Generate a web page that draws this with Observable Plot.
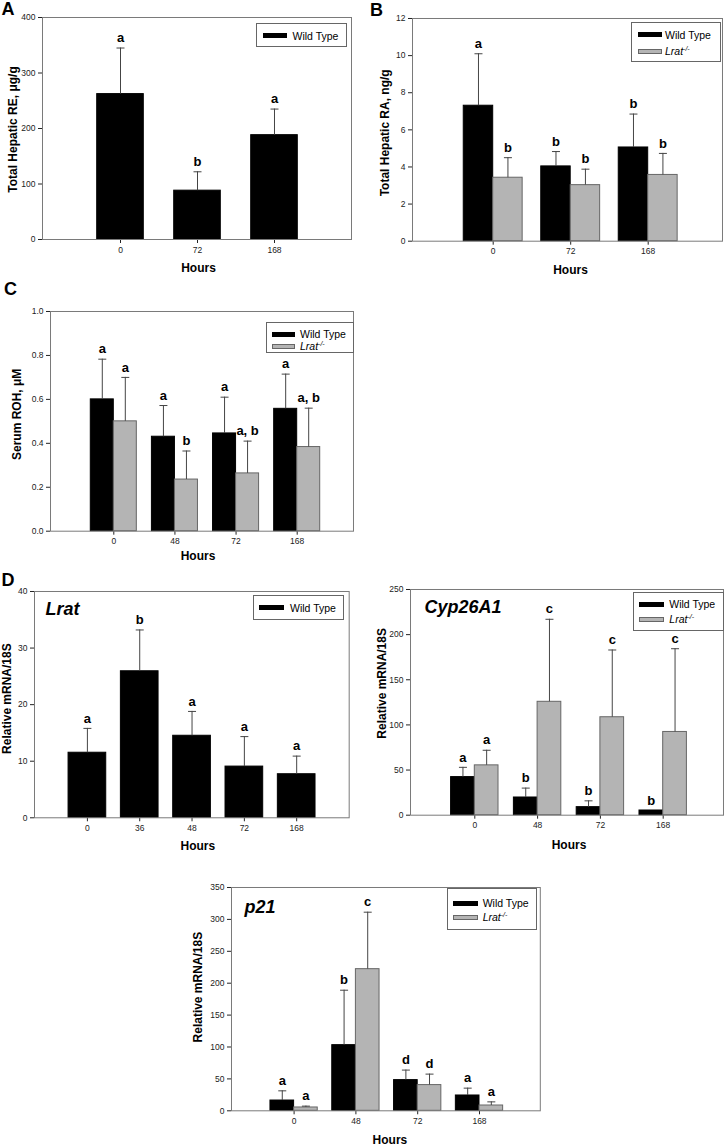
<!DOCTYPE html>
<html>
<head>
<meta charset="utf-8">
<script src="https://cdn.jsdelivr.net/npm/d3@7"></script>
<script src="https://cdn.jsdelivr.net/npm/@observablehq/plot@0.6"></script>
<style>
  html, body { margin: 0; padding: 0; background: #fff; }
  #fig { position: relative; width: 727px; height: 1147px; overflow: hidden; font-family: "Liberation Sans", Arial, sans-serif; color: #000; }
  .panel { position: absolute; }
  .panel svg { display: block; max-width: none; }
  .letter { position: absolute; font-weight: bold; font-size: 18px; line-height: 18px; }
  .legend { position: absolute; border: 1px solid #666; background: #fff; box-sizing: border-box; }
  .legend .sw { position: absolute; height: 5px; box-sizing: border-box; }
  .legend .lt { position: absolute; font-size: 10.5px; line-height: 14px; white-space: nowrap; }
  .legend sup { font-size: 7px; vertical-align: 4px; line-height: 0; }
</style>
</head>
<body>
<div id="fig"></div>
<script>
// ---------------- DATA ----------------
const seriesNames = ["Wild Type", "Lrat"];
const koSuperscript = "-/-";

// A: Total hepatic RE (µg/g)
const hoursA = ["0", "72", "168"];
const reWT = [262, 88, 188];
const reWTErr = [345, 122, 235];
const reWTSig = ["a", "b", "a"];
const ticksA = [0, 100, 200, 300, 400];

// B: Total hepatic RA (ng/g)
const hoursB = ["0", "72", "168"];
const raWT = [7.3, 4.03, 5.05];
const raWTErr = [10.1, 4.83, 6.85];
const raWTSig = ["a", "b", "b"];
const raKO = [3.42, 3.02, 3.57];
const raKOErr = [4.5, 3.88, 4.73];
const raKOSig = ["b", "b", "b"];
const ticksB = [0, 2, 4, 6, 8, 10, 12];

// C: Serum ROH (µM)
const hoursC = ["0", "48", "72", "168"];
const rohWT = [0.60, 0.43, 0.445, 0.557];
const rohWTErr = [0.783, 0.572, 0.61, 0.715];
const rohWTSig = ["a", "a", "a", "a"];
const rohKO = [0.50, 0.235, 0.263, 0.383];
const rohKOErr = [0.70, 0.365, 0.41, 0.56];
const rohKOSig = ["a", "b", "a, b", "a, b"];
const ticksC = [0, 0.2, 0.4, 0.6, 0.8, 1.0];

// D: Lrat mRNA
const hoursLrat = ["0", "36", "48", "72", "168"];
const lratWT = [11.5, 25.9, 14.5, 9.05, 7.7];
const lratWTErr = [15.8, 33.2, 18.8, 14.35, 10.9];
const lratWTSig = ["a", "b", "a", "a", "a"];
const ticksLrat = [0, 10, 20, 30, 40];

// D: Cyp26A1 mRNA
const hoursCyp = ["0", "48", "72", "168"];
const cypWT = [42.2, 19.6, 8.9, 5.2];
const cypWTErr = [53, 30, 15.9, 5.2];
const cypWTSig = ["a", "b", "b", "b"];
const cypKO = [55.2, 125.6, 108.5, 92.2];
const cypKOErr = [71.9, 217, 183, 184.4];
const cypKOSig = ["a", "c", "c", "c"];
const ticksCyp = [0, 50, 100, 150, 200, 250];

// D: p21 mRNA
const hoursP21 = ["0", "48", "72", "168"];
const p21WT = [16.1, 102.9, 48.1, 24];
const p21WTErr = [31.3, 189, 63.8, 35.5];
const p21WTSig = ["a", "b", "d", "a"];
const p21KO = [5.2, 222, 40.3, 8.3];
const p21KOErr = [7.3, 311.3, 57.5, 14];
const p21KOSig = ["a", "c", "d", "a"];
const ticksP21 = [0, 50, 100, 150, 200, 250, 300, 350];

// ---------------- STYLE ----------------
const WT_STYLE = { fill: "#000", stroke: "#000", labelHtml: seriesNames[0] };
const KO_STYLE = { fill: "#b4b4b4", stroke: "#666", labelHtml: "<i>" + seriesNames[1] + "<sup>" + koSuperscript + "</sup></i>" };
const ERR_COLOR = "#444";
const capSymbol = { draw(ctx, size) { const w = Math.sqrt(size / Math.PI); ctx.moveTo(-w, 0); ctx.lineTo(w, 0); } };

const fig = document.getElementById("fig");

function makePanel(cfg) {
  const mL = 50, mR = 8, mT = 8, mB = 46;
  const W = cfg.fr - cfg.fl, H = cfg.fb - cfg.ft;
  const svgLeft = cfg.fl - mL, svgTop = cfg.ft - mT;
  const width = W + mL + mR, height = H + mT + mB;
  const n = cfg.cats.length, k = cfg.series.length;
  const step = (cfg.cN - cfg.c0) / (n - 1);
  const pi = 1 - cfg.frac, po = (1 + pi) / 2;
  const bw = step * cfg.frac, sub = bw / k;
  const range = [cfg.c0 - step - svgLeft, cfg.cN + step - svgLeft];

  const marks = [];
  cfg.series.forEach((s, j) => {
    const rows = cfg.cats.map((c, i) => ({ cat: c, v: s.values[i], e: s.errs[i], s: s.sigs[i] }));
    const il = j * sub, ir = (k - 1 - j) * sub, dx = -bw / 2 + sub * (j + 0.5);
    marks.push(Plot.barY(rows, { x: "cat", y: "v", fill: s.fill, stroke: s.stroke, strokeWidth: 1, insetLeft: il, insetRight: ir }));
    const eb = rows.filter(d => d.e > d.v);
    marks.push(Plot.ruleX(eb, { x: "cat", y1: "v", y2: "e", dx, stroke: ERR_COLOR, strokeWidth: 1 }));
    marks.push(Plot.dot(eb, { x: "cat", y: "e", dx, symbol: capSymbol, r: 4, fill: "none", stroke: ERR_COLOR, strokeWidth: 1 }));
    marks.push(Plot.text(rows, { x: "cat", y: "e", text: "s", dx, dy: -10, fontWeight: "bold", fontSize: 13, fill: "#000" }));
  });
  marks.push(Plot.frame({ stroke: "#7a7a7a" }));
  marks.push(Plot.text(["Hours"], { frameAnchor: "bottom", text: d => d, dx: cfg.hoursDx, dy: cfg.hoursDy, textAnchor: "middle", lineAnchor: "middle", fontWeight: "bold", fontSize: 12, fill: "#000" }));
  marks.push(Plot.text([cfg.yLabel], { frameAnchor: "left", text: d => d, rotate: -90, dx: cfg.yLabelDx, dy: cfg.yLabelDy, textAnchor: "middle", lineAnchor: "middle", fontWeight: "bold", fontSize: 12, fill: "#000" }));
  if (cfg.gene) {
    marks.push(Plot.text([cfg.gene], { frameAnchor: "top-left", text: d => d, dx: cfg.geneDx, dy: cfg.geneDy, textAnchor: "start", lineAnchor: "top", fontWeight: "bold", fontStyle: "italic", fontSize: 18, fill: "#000" }));
  }

  const chart = Plot.plot({
    width, height,
    marginLeft: mL, marginRight: mR, marginTop: mT, marginBottom: mB,
    style: { fontFamily: "'Liberation Sans', Arial, sans-serif", fontSize: "8.5px", color: "#222", background: "transparent", overflow: "visible" },
    x: { type: "band", domain: cfg.cats, range, paddingInner: pi, paddingOuter: po, round: false, label: null, tickSize: 4, tickPadding: 3 },
    y: { domain: cfg.yDomain, ticks: cfg.yTicks, tickFormat: cfg.yFormat, label: null, tickSize: 4, tickPadding: 3 },
    marks
  });
  const holder = document.createElement("div");
  holder.className = "panel";
  holder.style.left = svgLeft + "px";
  holder.style.top = svgTop + "px";
  holder.appendChild(chart);
  fig.appendChild(holder);

  // legend
  const L = cfg.legend;
  const box = document.createElement("div");
  box.className = "legend";
  Object.assign(box.style, { left: L.x + "px", top: L.y + "px", width: L.w + "px", height: L.h + "px" });
  cfg.series.forEach((s, j) => {
    const cy = L.rowY[j] - L.y - 1;
    const sw = document.createElement("div");
    sw.className = "sw";
    Object.assign(sw.style, { left: (L.swX - L.x - 1) + "px", top: (cy - 2.5) + "px", width: L.swW + "px", background: s.fill, border: "1px solid " + s.stroke });
    const t = document.createElement("div");
    t.className = "lt";
    t.innerHTML = s.labelHtml;
    Object.assign(t.style, { left: (L.txtX - L.x - 1) + "px", top: (cy - 7) + "px" });
    box.appendChild(sw);
    box.appendChild(t);
  });
  fig.appendChild(box);

  // panel letter
  if (cfg.letter) {
    const el = document.createElement("div");
    el.className = "letter";
    el.textContent = cfg.letter.text;
    el.style.left = cfg.letter.x + "px";
    el.style.top = cfg.letter.y + "px";
    fig.appendChild(el);
  }
}

const fmt1 = d3.format(".1f");

makePanel({
  fl: 42, fr: 351, ft: 17.3, fb: 239.3, c0: 120, cN: 274, frac: 0.605,
  cats: hoursA,
  series: [{ ...WT_STYLE, values: reWT, errs: reWTErr, sigs: reWTSig }],
  yDomain: [0, 400], yTicks: ticksA, yFormat: null,
  yLabel: "Total Hepatic RE, μg/g", yLabelDx: -29, yLabelDy: 1,
  hoursDx: 1.5, hoursDy: 28.5,
  legend: { x: 256, y: 23, w: 91, h: 24, rowY: [35.8], swX: 263, swW: 24, txtX: 292.5 },
  letter: { text: "A", x: 1.5, y: 0 }
});

makePanel({
  fl: 412, fr: 722, ft: 18, fb: 240.7, c0: 492.7, cN: 647.7, frac: 0.76,
  cats: hoursB,
  series: [
    { ...WT_STYLE, values: raWT, errs: raWTErr, sigs: raWTSig },
    { ...KO_STYLE, values: raKO, errs: raKOErr, sigs: raKOSig }
  ],
  yDomain: [0, 12], yTicks: ticksB, yFormat: null,
  yLabel: "Total Hepatic RA, ng/g", yLabelDx: -27, yLabelDy: 3,
  hoursDx: 3, hoursDy: 28.5,
  legend: { x: 631, y: 22, w: 90, h: 40, rowY: [34.7, 51], swX: 638, swW: 23.5, txtX: 665 },
  letter: { text: "B", x: 370, y: 0.5 }
});

makePanel({
  fl: 50, fr: 353, ft: 311.3, fb: 531, c0: 113.3, cN: 296.7, frac: 0.753,
  cats: hoursC,
  series: [
    { ...WT_STYLE, values: rohWT, errs: rohWTErr, sigs: rohWTSig },
    { ...KO_STYLE, values: rohKO, errs: rohKOErr, sigs: rohKOSig }
  ],
  yDomain: [0, 1], yTicks: ticksC, yFormat: fmt1,
  yLabel: "Serum ROH, μM", yLabelDx: -33, yLabelDy: -7,
  hoursDx: -4, hoursDy: 25,
  legend: { x: 266, y: 322, w: 88, h: 31, rowY: [334, 346], swX: 272, swW: 23, txtX: 300 },
  letter: { text: "C", x: 4, y: 280 }
});

makePanel({
  fl: 34.3, fr: 349, ft: 591, fb: 817.3, c0: 87.2, cN: 296.5, frac: 0.72,
  cats: hoursLrat,
  series: [{ ...WT_STYLE, values: lratWT, errs: lratWTErr, sigs: lratWTSig }],
  yDomain: [0, 40], yTicks: ticksLrat, yFormat: null,
  yLabel: "Relative mRNA/18S", yLabelDx: -27, yLabelDy: -6,
  hoursDx: 6, hoursDy: 28,
  gene: "Lrat", geneDx: 11, geneDy: 11,
  legend: { x: 253, y: 595, w: 91, h: 25, rowY: [607.5], swX: 259.3, swW: 25, txtX: 290 },
  letter: { text: "D", x: 1.5, y: 571 }
});

makePanel({
  fl: 410, fr: 723, ft: 589.3, fb: 815, c0: 474.3, cN: 662.7, frac: 0.755,
  cats: hoursCyp,
  series: [
    { ...WT_STYLE, values: cypWT, errs: cypWTErr, sigs: cypWTSig },
    { ...KO_STYLE, values: cypKO, errs: cypKOErr, sigs: cypKOSig }
  ],
  yDomain: [0, 250], yTicks: ticksCyp, yFormat: null,
  yLabel: "Relative mRNA/18S", yLabelDx: -28, yLabelDy: -19,
  hoursDx: 2, hoursDy: 30,
  gene: "Cyp26A1", geneDx: 14, geneDy: 11,
  legend: { x: 633.3, y: 591.7, w: 91, h: 39.3, rowY: [604.2, 619.2], swX: 639.3, swW: 24.7, txtX: 669.3 }
});

makePanel({
  fl: 230.7, fr: 539.5, ft: 886.7, fb: 1110, c0: 293.3, cN: 478.7, frac: 0.765,
  cats: hoursP21,
  series: [
    { ...WT_STYLE, values: p21WT, errs: p21WTErr, sigs: p21WTSig },
    { ...KO_STYLE, values: p21KO, errs: p21KOErr, sigs: p21KOSig }
  ],
  yDomain: [0, 350], yTicks: ticksP21, yFormat: null,
  yLabel: "Relative mRNA/18S", yLabelDx: -33, yLabelDy: -12,
  hoursDx: 4, hoursDy: 29.5,
  gene: "p21", geneDx: 13, geneDy: 13,
  legend: { x: 447.3, y: 888.3, w: 90, h: 41.7, rowY: [903.5, 917.5], swX: 453.3, swW: 24.4, txtX: 482.7 }
});
</script>
</body>
</html>
